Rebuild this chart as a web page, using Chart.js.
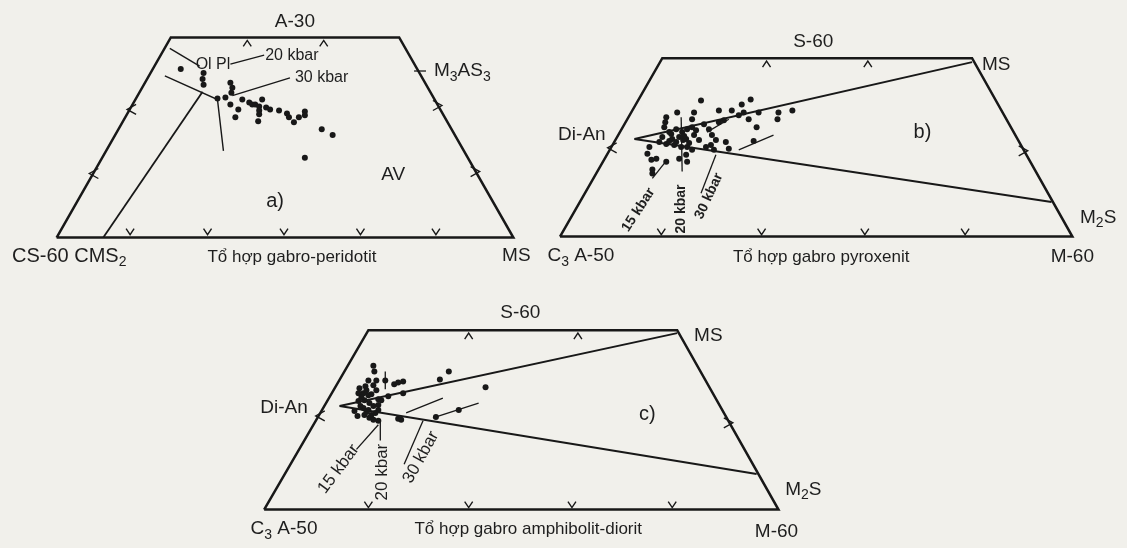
<!DOCTYPE html>
<html>
<head>
<meta charset="utf-8">
<script src="https://cdn.jsdelivr.net/npm/chart.js@4"></script>
<style>
  body { margin: 0; background: #f1f0eb; }
  canvas { display: block; }
</style>
</head>
<body>
<canvas id="myChart" width="1127" height="548"></canvas>
<script>
// diagram a) gabro-peridotit
const outlineA = [[53,237],[168,34],[398,34],[513,237],[53,237]];
const cms2LineA = [[100,237],[200,89]];
const cotectic20A = [[167,45],[197,63]];
const cotectic30A = [[162,73],[215,97],[221,149]];
const leadersA = [[[228,61],[262,52]], [[230,93],[288,75]], [[413,68],[425,68]]];
const pointsA = [[178,66],[201,70],[200,76],[201,82],[215,96],[223,95],[228,80],[230,85],[229,90],
  [228,102],[236,107],[233,115],[240,97],[247,100],[250,102],[253,102],[257,104],[257,108],[257,112],
  [256,119],[260,97],[264,105],[268,107],[277,108],[285,111],[287,115],[292,120],[297,115],[303,109],
  [303,113],[320,127],[331,133],[303,156]];

// diagram b) gabro pyroxenit
const outlineB = [[560,236],[663,55],[975,55],[1076,236],[560,236]];
const tieMsB = [[635,137],[975,59]];
const tieM2sB = [[635,137],[1055,201]];
const leadersB = [[[653,177],[668,158]], [[682,115],[683,170]], [[702,192],[717,153]], [[740,148],[775,133]], [[708,130],[730,117]]];
const pointsB = [[702,98],[743,102],[752,97],[720,108],[733,108],[740,113],[745,110],[750,117],[760,110],
  [758,125],[780,110],[779,117],[794,108],[678,110],[667,115],[666,120],[695,110],[693,117],
  [665,125],[670,130],[677,127],[683,130],[688,127],[693,125],[663,135],[673,137],[680,135],[687,137],
  [695,133],[667,142],[675,143],[682,145],[688,145],[693,148],[687,153],[680,157],[688,160],[650,145],
  [648,152],[657,157],[653,172],[667,160],[705,122],[710,127],[713,133],[717,138],[712,143],[707,145],
  [720,120],[725,118],[730,147],[727,140],[715,148],[755,139],[652,158],[653,168],
  [660,140],[670,139],[677,140],[684,138],[690,141],[672,132],[685,134],[700,138],[697,128]];

// diagram c) gabro amphibolit-diorit
const outlineC = [[262,513],[367,331],[678,331],[780,513],[262,513]];
const tieMsC = [[338,408],[678,334]];
const tieM2sC = [[338,408],[758,477]];
const leadersC = [[[355,452],[377,427]], [[379,423],[379,443]], [[422,423],[403,467]], [[405,415],[442,400]], [[432,420],[478,405]], [[384,373],[384,391]]];
const pointsC = [[448,373],[439,381],[485,389],[402,395],[387,398],[377,401],[384,382],[393,386],[397,384],
  [402,383],[372,367],[373,373],[367,382],[364,388],[372,387],[375,392],[358,390],[362,395],[367,397],
  [357,403],[363,402],[368,405],[362,410],[367,412],[372,408],[353,413],[363,417],[368,420],[372,422],
  [377,412],[380,402],[377,407],[357,395],[375,382],[397,421],[400,422],[377,423],[435,419],[458,412],
  [360,399],[365,392],[370,396],[359,408],[365,414],[370,417],[374,415],[356,418]];

// chevron ticks on the edges
const ticksUp = [[245,40],[322,40],[768,61],[870,61],[468,337],[578,337]];
const ticksDown = [[127,231],[205,231],[282,231],[359,231],[435,231],
  [662,231],[763,231],[867,231],[968,231],[367,508],[468,508],[572,508],[673,508]];
const ticksLeft = [[128,107],[90,172],[612,146],[318,418]];
const ticksRight = [[437,103],[475,170],[1027,149],[730,425]];

const captions = ['Tổ hợp gabro-peridotit', 'Tổ hợp gabro pyroxenit', 'Tổ hợp gabro amphibolit-diorit'];

const labels = [
  {t:[['A-30']], x:293, y:18, s:19},
  {t:[['20 kbar']], x:263, y:52, s:16, a:'left'},
  {t:[['30 kbar']], x:293, y:75, s:16, a:'left'},
  {t:[['Ol Pl']], x:193, y:61, s:16, a:'left'},
  {t:[['M'],['3',1],['AS'],['3',1]], x:433, y:68, s:19, a:'left'},
  {t:[['AV']], x:392, y:173, s:19},
  {t:[['a)']], x:273, y:200, s:20},
  {t:[['CS-60 CMS'],['2',1]], x:8, y:256, s:20, a:'left'},
  {t:[[captions[0]]], x:290, y:257, s:17},
  {t:[['MS']], x:516, y:256, s:19},

  {t:[['S-60']], x:815, y:38, s:19},
  {t:[['MS']], x:985, y:62, s:19, a:'left'},
  {t:[['Di-An']], x:582, y:133, s:19},
  {t:[['b)']], x:925, y:130, s:20},
  {t:[['M'],['2',1],['S']], x:1102, y:217, s:19},
  {t:[['C'],['3',1],[' A-50']], x:581, y:256, s:19},
  {t:[[captions[1]]], x:823, y:257, s:17},
  {t:[['M-60']], x:1076, y:257, s:19},
  {t:[['15 kbar']], x:639, y:209, s:14, r:-57, b:1},
  {t:[['20 kbar']], x:682, y:208, s:14, r:-90, b:1},
  {t:[['30 kbar']], x:710, y:195, s:14, r:-65, b:1},

  {t:[['S-60']], x:520, y:313, s:19},
  {t:[['MS']], x:695, y:337, s:19, a:'left'},
  {t:[['Di-An']], x:282, y:410, s:19},
  {t:[['c)']], x:648, y:417, s:20},
  {t:[['M'],['2',1],['S']], x:805, y:493, s:19},
  {t:[['C'],['3',1],[' A-50']], x:282, y:533, s:19},
  {t:[[captions[2]]], x:528, y:533, s:17},
  {t:[['M-60']], x:778, y:536, s:19},
  {t:[['15 kbar']], x:337, y:472, s:17, r:-53},
  {t:[['20 kbar']], x:381, y:475, s:17, r:-90},
  {t:[['30 kbar']], x:420, y:460, s:17, r:-61}
];

const ink = '#181818';
const FONT = '"Liberation Sans", Arial, sans-serif';

function xy(pts) {
  return pts.map(p => ({x: p[0], y: p[1]}));
}
function line(pts, w) {
  return {data: xy(pts), showLine: true, pointRadius: 0, borderColor: ink, borderWidth: w, clip: false};
}
function dots(pts) {
  return {data: xy(pts), showLine: false, pointRadius: 3, backgroundColor: ink, borderWidth: 0, clip: false};
}

const datasets = [
  line(outlineA, 2.5), line(cms2LineA, 1.8), line(cotectic20A, 1.4), line(cotectic30A, 1.4),
  line(outlineB, 2.5), line(tieMsB, 2), line(tieM2sB, 2),
  line(outlineC, 2.5), line(tieMsC, 2), line(tieM2sC, 2),
];
leadersA.concat(leadersB, leadersC).forEach(l => datasets.push(line(l, 1.3)));
datasets.push(dots(pointsA), dots(pointsB), dots(pointsC));

const bgPlugin = {
  id: 'bg',
  beforeDraw(chart) {
    const c = chart.ctx;
    c.save();
    c.fillStyle = '#f1f0eb';
    c.fillRect(0, 0, chart.width, chart.height);
    c.restore();
  }
};

// ticks and labels, placed through the chart scales
const marksPlugin = {
  id: 'marks',
  afterDatasetsDraw(chart) {
    const c = chart.ctx;
    const sx = chart.scales.x, sy = chart.scales.y;
    c.save();
    c.strokeStyle = ink;
    c.lineWidth = 1.4;
    const chev = (list, f) => list.forEach(p => {
      const px = sx.getPixelForValue(p[0]), py = sy.getPixelForValue(p[1]);
      c.beginPath();
      f(px, py);
      c.stroke();
    });
    chev(ticksUp, (x, y) => { c.moveTo(x-4, y+3); c.lineTo(x, y-3); c.lineTo(x+4, y+3); });
    chev(ticksDown, (x, y) => { c.moveTo(x-4, y-3); c.lineTo(x, y+3); c.lineTo(x+4, y-3); });
    chev(ticksLeft, (x, y) => { c.moveTo(x+5, y-5); c.lineTo(x-4, y); c.lineTo(x+5, y+5); });
    chev(ticksRight, (x, y) => { c.moveTo(x-5, y-5); c.lineTo(x+4, y); c.lineTo(x-5, y+5); });

    c.fillStyle = '#1e1e1e';
    c.textBaseline = 'middle';
    labels.forEach(l => {
      const px = sx.getPixelForValue(l.x), py = sy.getPixelForValue(l.y);
      const wt = l.b ? 'bold ' : '';
      const parts = l.t.map(([str, sub]) => {
        const size = sub ? Math.round(l.s * 0.72) : l.s;
        c.font = wt + size + 'px ' + FONT;
        return {str, sub, font: c.font, w: c.measureText(str).width};
      });
      const total = parts.reduce((a, p) => a + p.w, 0);
      c.save();
      c.translate(px, py);
      if (l.r) c.rotate(l.r * Math.PI / 180);
      let cx = l.a === 'left' ? 0 : -total / 2;
      c.textAlign = 'left';
      parts.forEach(p => {
        c.font = p.font;
        c.fillText(p.str, cx, p.sub ? l.s * 0.3 : 0);
        cx += p.w;
      });
      c.restore();
    });
    c.restore();
  }
};

const ctx = document.getElementById('myChart').getContext('2d');
const myChart = new Chart(ctx, {
  type: 'scatter',
  data: { datasets },
  options: {
    responsive: false,
    animation: false,
    layout: { padding: 0 },
    scales: {
      x: { type: 'linear', min: 0, max: 1127, display: false },
      y: { type: 'linear', min: 0, max: 548, reverse: true, display: false }
    },
    plugins: { legend: { display: false }, tooltip: { enabled: false } }
  },
  plugins: [bgPlugin, marksPlugin]
});
</script>
</body>
</html>
